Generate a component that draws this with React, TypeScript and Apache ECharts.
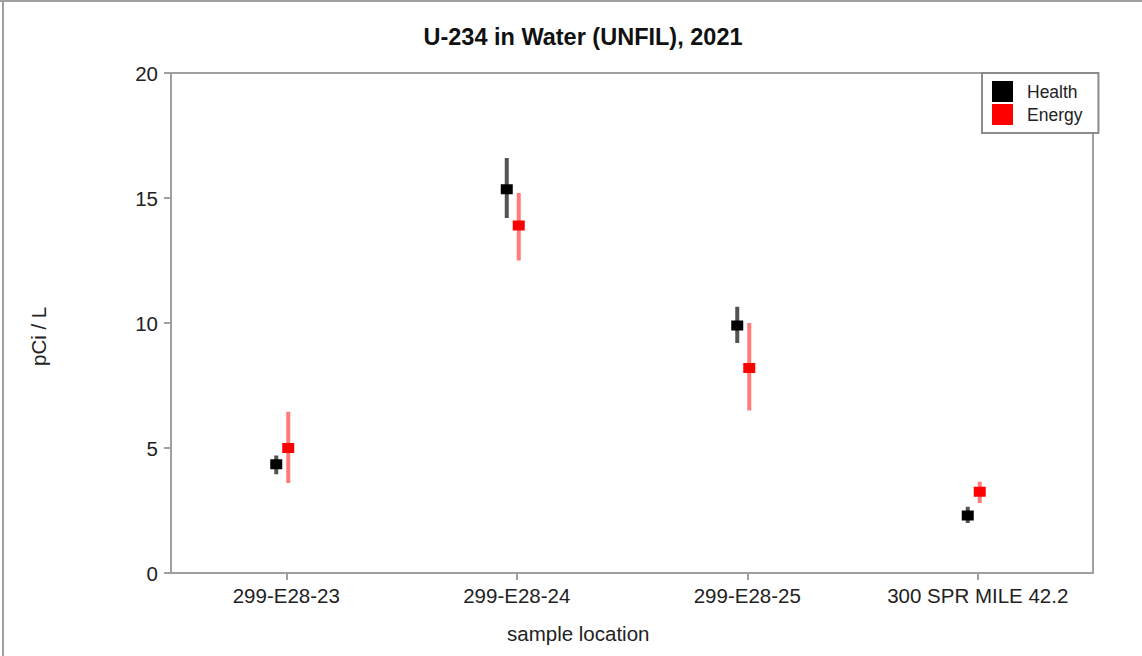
import React, { useEffect, useRef } from "react";
import * as echarts from "echarts";

const categories = ["299-E28-23", "299-E28-24", "299-E28-25", "300 SPR MILE 42.2"];
const healthValues = [4.35, 15.35, 9.9, 2.3];
const healthLow = [3.95, 14.2, 9.2, 2.0];
const healthHigh = [4.7, 16.6, 10.65, 2.65];
const energyValues = [5.0, 13.9, 8.2, 3.25];
const energyLow = [3.6, 12.5, 6.5, 2.8];
const energyHigh = [6.45, 15.2, 10.0, 3.65];
const yTicks = { min: 0, max: 20, interval: 5 };

const FONT = "'Liberation Sans', Arial, sans-serif";

function makeRender(offset: number, color: string, errColor: string) {
  return (params: any, api: any) => {
    const idx = api.value(0);
    const c = api.coord([idx, api.value(1)]);
    const lo = api.coord([idx, api.value(2)]);
    const hi = api.coord([idx, api.value(3)]);
    const x = c[0] + offset;
    return {
      type: "group",
      children: [
        {
          type: "line",
          shape: { x1: x, y1: hi[1], x2: x, y2: lo[1] },
          style: { stroke: errColor, lineWidth: 4 },
        },
        {
          type: "rect",
          shape: { x: x - 6, y: c[1] - 5, width: 12, height: 10 },
          style: { fill: color },
        },
      ],
    };
  };
}

export default function App() {
  const ref = useRef<HTMLDivElement>(null);
  useEffect(() => {
    if (!ref.current) return;
    const chart = echarts.init(ref.current, null, { renderer: "svg" });
    const healthData = categories.map((_, i) => [i, healthValues[i], healthLow[i], healthHigh[i]]);
    const energyData = categories.map((_, i) => [i, energyValues[i], energyLow[i], energyHigh[i]]);
    chart.setOption({
      animation: false,
      backgroundColor: "#ffffff",
      title: {
        text: "U-234 in Water (UNFIL), 2021",
        left: 578,
        top: 20,
        textAlign: "center",
        textStyle: { fontFamily: FONT, fontSize: 23.5, fontWeight: "bold", color: "#111" },
      },
      grid: {
        left: 171,
        top: 73,
        right: 49,
        bottom: 83,
        show: true,
        borderColor: "#a0a0a0",
        borderWidth: 2,
        backgroundColor: "transparent",
      },
      legend: {
        orient: "vertical",
        left: 982,
        top: 73,
        padding: [8, 16, 8, 10],
        itemGap: 2,
        itemWidth: 21,
        itemHeight: 21,
        borderColor: "#8c8c8c",
        borderWidth: 2,
        backgroundColor: "#fff",
        textStyle: { fontFamily: FONT, fontSize: 17.5, color: "#222", padding: [0, 0, 0, 9] },
        data: [
          { name: "Health", icon: "rect", itemStyle: { color: "#000" } },
          { name: "Energy", icon: "rect", itemStyle: { color: "#ff0000" } },
        ],
      },
      xAxis: {
        type: "category",
        data: categories,
        axisLine: { show: false },
        axisTick: {
          show: true,
          interval: 0,
          alignWithLabel: true,
          length: 7,
          lineStyle: { color: "#a0a0a0", width: 2 },
        },
        axisLabel: { interval: 0, hideOverlap: false, fontFamily: FONT, fontSize: 20.5, color: "#222", margin: 12 },
        splitLine: { show: false },
      },
      yAxis: {
        type: "value",
        min: yTicks.min,
        max: yTicks.max,
        interval: yTicks.interval,
        axisLine: { show: false },
        axisTick: { show: true, length: 7, lineStyle: { color: "#a0a0a0", width: 2 } },
        axisLabel: { fontFamily: FONT, fontSize: 20.5, color: "#222", margin: 13 },
        splitLine: { show: false },
      },
      graphic: [
        {
          type: "text",
          left: 507,
          top: 623,
          style: { text: "sample location", fontFamily: FONT, fontSize: 20.5, fill: "#222" },
        },
        {
          type: "text",
          x: 28,
          y: 366,
          rotation: Math.PI / 2,
          style: { text: "pCi / L", fontFamily: FONT, fontSize: 20.5, fill: "#222" },
        },
        {
          type: "line",
          shape: { x1: 0, y1: 1, x2: 1142, y2: 1 },
          style: { stroke: "#a0a0a0", lineWidth: 2 },
        },
        {
          type: "line",
          shape: { x1: 3, y1: 0, x2: 3, y2: 656 },
          style: { stroke: "#a0a0a0", lineWidth: 2 },
        },
      ],
      series: [
        {
          name: "Health",
          type: "custom",
          itemStyle: { color: "#000" },
          renderItem: makeRender(-10, "#000000", "rgba(40,40,40,0.8)"),
          encode: { x: 0, y: [1, 2, 3] },
          data: healthData,
          z: 3,
        },
        {
          name: "Energy",
          type: "custom",
          itemStyle: { color: "#ff0000" },
          renderItem: makeRender(2, "#ff0000", "rgba(255,90,90,0.8)"),
          encode: { x: 0, y: [1, 2, 3] },
          data: energyData,
          z: 2,
        },
      ],
    });
    return () => chart.dispose();
  }, []);
  return (
    <div
      ref={ref}
      style={{ position: "fixed", left: 0, top: 0, width: 1142, height: 656 }}
    />
  );
}
